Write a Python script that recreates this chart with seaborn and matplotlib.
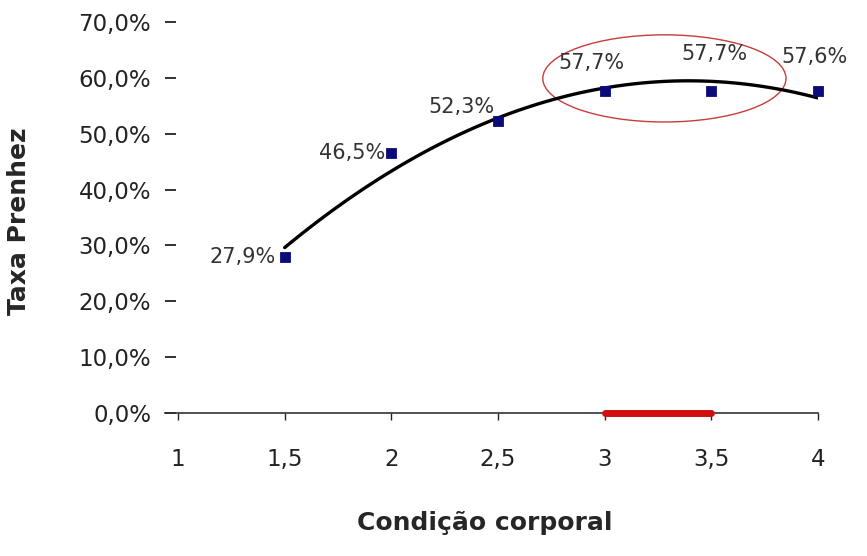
"""Taxa de prenhez por condição corporal, com linha de tendência polinomial."""

import matplotlib.pyplot as plt
import numpy as np
import pandas as pd
import seaborn as sns
from matplotlib.patches import Ellipse

# Dados
condicao = [1.5, 2.0, 2.5, 3.0, 3.5, 4.0]
taxa = [27.9, 46.5, 52.3, 57.7, 57.7, 57.6]
rotulos = ["27,9%", "46,5%", "52,3%", "57,7%", "57,7%", "57,6%"]
x_ticks = [1, 1.5, 2, 2.5, 3, 3.5, 4]
x_tick_labels = ["1", "1,5", "2", "2,5", "3", "3,5", "4"]
y_ticks = [0, 10, 20, 30, 40, 50, 60, 70]
y_tick_labels = ["0,0%", "10,0%", "20,0%", "30,0%", "40,0%", "50,0%", "60,0%", "70,0%"]
faixa_ideal = [3.0, 3.5]

# posicao dos rotulos (offset em pixels) e da elipse de destaque
label_offsets = [(-9, 0, "right"), (-6, 0, "right"), (-4, 14, "right"),
                 (-13, 28, "center"), (3, 37, "center"), (-4, 34, "center")]
ellipse_center = (3.28, 59.9)
ellipse_size = (1.14, 15.6)

df = pd.DataFrame({"condicao": condicao, "taxa": taxa})

sns.set_style("white")
plt.rcParams["font.family"] = ["DejaVu Sans"]

fig = plt.figure(figsize=(8.67, 5.56), dpi=100)
ax = fig.add_axes([165 / 867, 1 - 413 / 556, (818 - 165) / 867, (413 - 22) / 556])

sns.regplot(data=df, x="condicao", y="taxa", order=2, ci=None, scatter=False,
            truncate=True, ax=ax, line_kws={"color": "black", "lw": 2.4})
sns.scatterplot(data=df, x="condicao", y="taxa", marker="s", s=55,
                color="#0a0a78", edgecolor="#0a0a78", ax=ax, zorder=4, clip_on=False)

for x, y, txt, (dx, dy, ha) in zip(condicao, taxa, rotulos, label_offsets):
    ax.annotate(txt, (x, y), xytext=(dx * 0.72, dy * 0.72), textcoords="offset points",
                ha=ha, va="center", fontsize=15, color="#333333")

ax.add_patch(Ellipse(ellipse_center, ellipse_size[0], ellipse_size[1], fill=False,
                     edgecolor="#c83c3c", lw=1.0, clip_on=False))
ax.plot(faixa_ideal, [0, 0], color="#d01010", lw=5, solid_capstyle="round",
        zorder=5, clip_on=False)

ax.set_xlim(1 - 13 / 213.3, 4.0)
ax.set_ylim(0, 70)
ax.set_xticks(x_ticks, x_tick_labels)
ax.set_yticks(y_ticks, y_tick_labels)
ax.tick_params(axis="x", direction="out", length=5, width=1, pad=20,
               labelsize=16.5, colors="#222222")
ax.tick_params(axis="y", direction="in", length=8, width=1.3, pad=10,
               labelsize=16.5, colors="#222222")
ax.tick_params(axis="y", left=True)
ax.tick_params(axis="x", bottom=True)

for side in ["top", "right", "left"]:
    ax.spines[side].set_visible(False)
ax.spines["bottom"].set_color("#333333")
ax.spines["bottom"].set_linewidth(1.2)

ax.set_xlabel("Condição corporal", fontsize=18, fontweight="bold")
ax.set_ylabel("Taxa Prenhez", fontsize=18, fontweight="bold")
ax.xaxis.set_label_coords(0.49, -0.25)
ax.yaxis.set_label_coords(-0.205, 0.49)

fig.savefig("out.png", dpi=100)
